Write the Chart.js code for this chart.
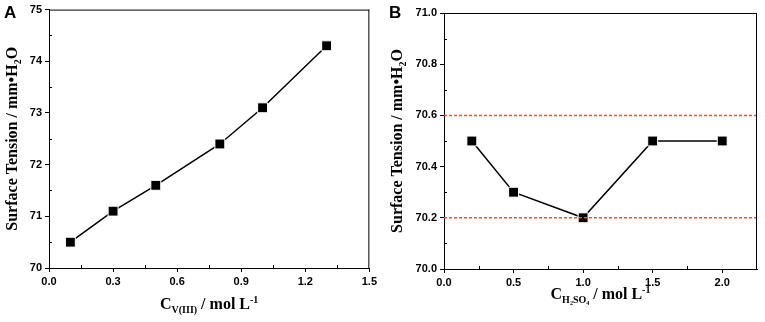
<!DOCTYPE html>
<html>
<head>
<meta charset="utf-8">
<script src="https://cdn.jsdelivr.net/npm/chart.js@4/dist/chart.umd.min.js"></script>
<style>
  body { margin: 0; background: #fff; }
  .panel { position: absolute; top: 0; }
</style>
</head>
<body>
<div class="panel" style="left:0px"><canvas id="chartA" width="380" height="322"></canvas></div>
<div class="panel" style="left:385px"><canvas id="chartB" width="380" height="322"></canvas></div>
<script>
// panel A: surface tension vs V(III) concentration
const concV = [0.1, 0.3, 0.5, 0.8, 1.0, 1.3];
const tensionA = [70.5, 71.1, 71.6, 72.4, 73.1, 74.3];
const xTicksA = [0, 0.3, 0.6, 0.9, 1.2, 1.5];
const yTicksA = [70, 71, 72, 73, 74, 75];

// panel B: surface tension vs H2SO4 concentration
const concH = [0.2, 0.5, 1.0, 1.5, 2.0];
const tensionB = [70.5, 70.3, 70.2, 70.5, 70.5];
const xTicksB = [0, 0.5, 1.0, 1.5, 2.0];
const yTicksB = [70.0, 70.2, 70.4, 70.6, 70.8, 71.0];
const refLinesB = [70.6, 70.2];
const xMaxB = 2.25;

const tickFont = { family: 'Liberation Sans', size: 11, weight: 'bold' };

// draw text made of pieces, some sub/superscript
function richText(ctx, parts, x, y) {
  const big = 'bold 16px "Liberation Serif"', small = 'bold 10px "Liberation Serif"';
  let w = 0;
  parts.forEach(p => { ctx.font = p.s ? small : big; w += ctx.measureText(p.t).width; });
  let cx = x - w / 2;
  ctx.textBaseline = 'alphabetic';
  ctx.textAlign = 'left';
  parts.forEach(p => {
    ctx.font = p.s ? small : big;
    const dy = p.s === -1 ? 4 : p.s === 1 ? -6 : 0;
    ctx.fillText(p.t, cx, y + dy);
    cx += ctx.measureText(p.t).width;
  });
}

const decor = {
  id: 'decor',
  afterDraw(chart, args, o) {
    const { ctx, chartArea: a, scales } = chart;
    ctx.save();
    ctx.strokeStyle = '#000';
    ctx.lineWidth = 1;
    ctx.beginPath();
    ctx.moveTo(a.left, a.top + 0.5); ctx.lineTo(a.right, a.top + 0.5);
    ctx.moveTo(a.right - 0.5, a.top); ctx.lineTo(a.right - 0.5, a.bottom);
    // minor ticks, inward
    const xt = o.xTicks, yt = o.yTicks;
    for (let i = 0; i < xt.length; i++) {
      const v = i < xt.length - 1 ? (xt[i] + xt[i + 1]) / 2 : xt[i] + (xt[1] - xt[0]) / 2;
      if (v >= scales.x.max) continue;
      const px = Math.round(scales.x.getPixelForValue(v)) + 0.5;
      ctx.moveTo(px, a.bottom); ctx.lineTo(px, a.bottom - 3);
    }
    for (let i = 0; i < yt.length - 1; i++) {
      const py = Math.round(scales.y.getPixelForValue((yt[i] + yt[i + 1]) / 2)) + 0.5;
      ctx.moveTo(a.left, py); ctx.lineTo(a.left + 3, py);
    }
    ctx.stroke();
    ctx.fillStyle = '#000';
    richText(ctx, o.xTitle, (a.left + a.right) / 2, o.xTitleY);
    ctx.save();
    ctx.translate(o.yTitleX, (a.top + a.bottom) / 2);
    ctx.rotate(-Math.PI / 2);
    richText(ctx, o.yTitle, 0, 5);
    ctx.restore();
    ctx.font = 'bold 17px "Liberation Sans"';
    ctx.textAlign = 'left';
    ctx.fillText(o.letter, 4, 18);
    ctx.restore();
  }
};

function axis(ticks, min, max, digits, fitW, fitH) {
  return {
    type: 'linear', min: min, max: max,
    afterBuildTicks: s => { s.ticks = ticks.map(v => ({ value: v })); },
    afterFit: s => { if (fitW) s.width = fitW; if (fitH) s.height = fitH; },
    grid: { drawOnChartArea: false, drawTicks: true, tickLength: 4, color: '#000' },
    border: { display: true, color: '#000', width: 1 },
    ticks: { color: '#000', font: tickFont, padding: 3,
      callback: v => digits === null ? String(v) : Number(v).toFixed(digits) }
  };
}

function seriesStyle(xs, ys) {
  return {
    data: xs.map((x, i) => ({ x: x, y: ys[i] })),
    borderColor: '#000', borderWidth: 1.5,
    pointStyle: 'rect', pointRadius: 7, pointHoverRadius: 7,
    pointBackgroundColor: '#000', pointBorderColor: '#fff', pointBorderWidth: 1,
    fill: false, tension: 0
  };
}

new Chart(document.getElementById('chartA'), {
  type: 'line',
  data: { datasets: [seriesStyle(concV, tensionA)] },
  options: {
    responsive: false, animation: false,
    layout: { padding: { left: 9, right: 9, top: 8, bottom: 34 } },
    scales: {
      x: axis(xTicksA, 0, 1.5, 1, null, 20),
      y: axis(yTicksA, 70, 75, null, 40, null)
    },
    plugins: {
      legend: { display: false }, tooltip: { enabled: false },
      decor: {
        letter: 'A', xTicks: xTicksA, yTicks: yTicksA, xTitleY: 309, yTitleX: 12,
        xTitle: [{ t: 'C' }, { t: 'V(III)', s: -1 }, { t: ' / mol L' }, { t: '-1', s: 1 }],
        yTitle: [{ t: 'Surface Tension / mm•H' }, { t: '2', s: -1 }, { t: 'O' }]
      }
    }
  },
  plugins: [decor]
});

const refSets = refLinesB.map(v => ({
  data: [{ x: 0, y: v }, { x: xMaxB, y: v }],
  borderColor: 'rgba(255,70,70,1)', borderWidth: 1.5, borderDash: [3, 2],
  pointRadius: 0, fill: false
}));

new Chart(document.getElementById('chartB'), {
  type: 'line',
  data: { datasets: [...refSets, seriesStyle(concH, tensionB)] },
  options: {
    responsive: false, animation: false,
    layout: { padding: { left: 15, right: 4, top: 13, bottom: 33 } },
    scales: {
      x: axis(xTicksB, 0, xMaxB, 1, null, 20),
      y: axis(yTicksB, 70, 71, 1, 44, null)
    },
    plugins: {
      legend: { display: false }, tooltip: { enabled: false },
      decor: {
        letter: 'B', xTicks: xTicksB, yTicks: yTicksB, xTitleY: 299, yTitleX: 12,
        xTitle: [{ t: 'C' }, { t: 'H₂SO₄', s: -1 }, { t: ' / mol L' }, { t: '-1', s: 1 }],
        yTitle: [{ t: 'Surface Tension / mm•H' }, { t: '2', s: -1 }, { t: 'O' }]
      }
    }
  },
  plugins: [decor]
});
</script>
</body>
</html>
